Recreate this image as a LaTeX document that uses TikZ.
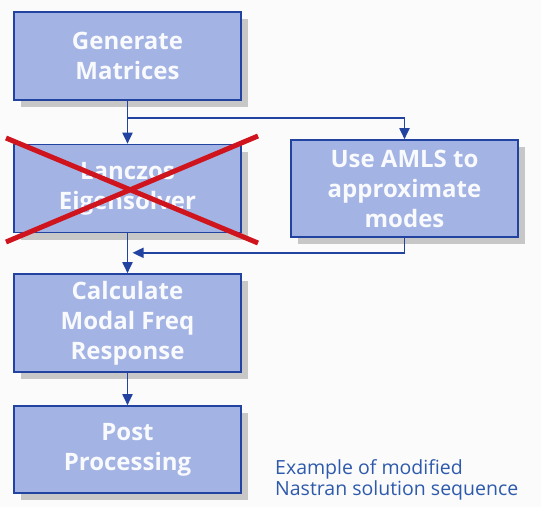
\documentclass[tikz,border=0pt]{standalone}
\usepackage{fontspec}
\setmainfont{Open Sans}
\usetikzlibrary{positioning, shapes, arrows.meta, calc, shadows}

\definecolor{boxfill}{HTML}{A3B3E3}
\definecolor{boxline}{HTML}{2343A0}
\definecolor{notecol}{HTML}{2E5AAC}
\definecolor{crosscol}{HTML}{D0141E}

\begin{document}
\begin{tikzpicture}[
    x=1pt, y=-1pt,
    >={Triangle[length=11pt, width=10pt]},
    % Styles
    stage/.style={ % Process box
        rectangle,
        minimum width=227pt,
        minimum height=88pt,
        draw=boxline,
        line width=1.6pt,
        fill=boxfill,
        text=white!94!boxfill,
        font=\fontsize{24}{30}\selectfont\bfseries,
        align=center,
        drop shadow={shadow xshift=7pt, shadow yshift=-7pt, fill=black!22, opacity=1}
    },
    arrow/.style={
        ->,
        draw=boxline,
        line width=1.8pt
    },
    cross/.style={ % Red strike-through
        draw=crosscol,
        line width=5pt
    }
]
    % Canvas
    \fill[gray!3] (0,0) rectangle (541,507);
    \useasboundingbox (0,0) rectangle (541,507);

    % Boxes
    \node at (127.5, 56) [stage] (gen) {Generate\\Matrices};
    \node at (127.5, 188.5) [stage] (lanczos) {Lanczos\\Eigensolver};
    \node at (404.5, 188.5) [stage, minimum height=97pt] (amls) {Use AMLS to\\approximate\\modes};
    \node at (127.5, 323) [stage, minimum height=98pt] (modal) {Calculate\\Modal Freq\\Response};
    \node at (127.5, 449.5) [stage, minimum height=87pt] (post) {Post\\Processing};

    % Note
    \node at (275, 480) [anchor=west, inner sep=0pt, text=notecol, align=left,
        font=\fontsize{19.5}{20.5}\selectfont] (note) {Example of modified\\Nastran solution sequence};

    % Connectors
    \coordinate (split) at ($(gen.south)+(0,17)$);
    \coordinate (join) at ($(lanczos.south)+(5,19.5)$);
    \draw [arrow] (gen) -- (lanczos);
    \draw [arrow] (split) -| (amls.north);
    \draw [arrow] (amls.south) |- (join);
    \draw [arrow] (lanczos) -- (modal);
    \draw [arrow] (modal) -- (post);

    % Cross out
    \draw [cross] (6,138) -- (258,243);
    \draw [cross] (258,136) -- (6,242);
\end{tikzpicture}
\end{document}
